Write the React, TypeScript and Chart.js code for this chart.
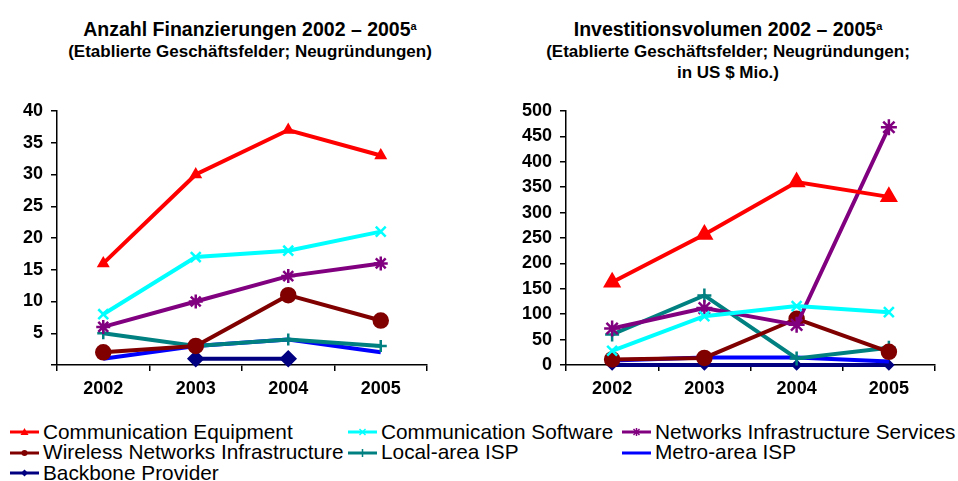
import React, { useEffect, useRef } from "react";
import { Chart, registerables } from "chart.js";

Chart.register(...registerables);

const FONT = "'Liberation Sans', Arial, Helvetica, sans-serif";
Chart.defaults.font.family = FONT;

// ---------- data ----------
const YEARS = ["2002", "2003", "2004", "2005"];

const SERIES_NAMES = [
  "Communication Equipment",
  "Communication Software",
  "Networks Infrastructure Services",
  "Wireless Networks Infrastructure",
  "Local-area ISP",
  "Metro-area ISP",
  "Backbone Provider",
];
const SERIES_COLORS = ["#FF0000", "#00FFFF", "#800080", "#800000", "#008080", "#0000FF", "#000080"];
const POINT_STYLES: any[] = ["triangle", "crossRot", "star", "circle", "cross", "circle", "rectRot"];

// Anzahl Finanzierungen
const countCommEquipment = [16, 30, 37, 33];
const countCommSoftware = [8, 17, 18, 21];
const countNetworksServices = [6, 10, 14, 16];
const countWireless = [2, 3, 11, 7];
const countLocalISP = [5, 3, 4, 3];
const countMetroISP = [1, 3, 4, 2];
const countBackbone = [null, 1, 1, null];

// Investitionsvolumen (US $ Mio.)
const volCommEquipment = [163, 257, 360, 331];
const volCommSoftware = [28, 96, 116, 104];
const volNetworksServices = [72, 112, 79, 468];
const volWireless = [11, 14, 91, 26];
const volLocalISP = [60, 137, 13, 34];
const volMetroISP = [9, 15, 15, 7];
const volBackbone = [0, 0, 0, 0];

const COUNT_MAX = 40;
const COUNT_STEP = 5;
const VOL_MAX = 500;
const VOL_STEP = 50;

const COUNT_SERIES = [countCommEquipment, countCommSoftware, countNetworksServices, countWireless, countLocalISP, countMetroISP, countBackbone];
const VOL_SERIES = [volCommEquipment, volCommSoftware, volNetworksServices, volWireless, volLocalISP, volMetroISP, volBackbone];

const COUNT_RADII = [5, 7, 7, 7, 6, 0, 7];
const VOL_RADII = [8, 7, 8, 7, 7, 0, 4];

type ChartProps = {
  series: (number | null)[][];
  max: number;
  step: number;
  hideZero: boolean;
  radii: number[];
  left: number;
  yWidth: number;
  padRight: number;
};

function LineChart({ series, max, step, hideZero, radii, left, yWidth, padRight }: ChartProps) {
  const ref = useRef<HTMLCanvasElement>(null);
  useEffect(() => {
    const axisGrid = {
      display: true,
      drawOnChartArea: false,
      drawTicks: true,
      tickLength: 6,
      color: "#000",
      lineWidth: 1.5,
    };
    const chart = new Chart(ref.current as HTMLCanvasElement, {
      type: "line",
      data: {
        labels: YEARS,
        datasets: SERIES_NAMES.map((name, i) => ({
          label: name,
          data: series[i] as any,
          borderColor: SERIES_COLORS[i],
          backgroundColor: SERIES_COLORS[i],
          pointBackgroundColor: SERIES_COLORS[i],
          pointBorderColor: SERIES_COLORS[i],
          borderWidth: 4,
          pointStyle: POINT_STYLES[i],
          pointRadius: radii[i],
          pointBorderWidth: 2.5,
          tension: 0,
          spanGaps: false,
          clip: false as any,
        })),
      },
      options: {
        animation: false,
        responsive: false,
        maintainAspectRatio: false,
        layout: { padding: { top: 111, right: padRight, left: 0, bottom: 10 } },
        plugins: {
          legend: { display: false },
          tooltip: { enabled: false },
          title: { display: false },
        },
        scales: {
          x: {
            offset: true,
            grid: { ...axisGrid, offset: true },
            border: { display: true, color: "#000", width: 1.5 },
            ticks: { color: "#000", font: { size: 18, weight: "bold" }, padding: 7, maxRotation: 0 },
            afterFit: (s: any) => {
              s.height = 35;
            },
          },
          y: {
            min: 0,
            max,
            grid: axisGrid,
            border: { display: true, color: "#000", width: 1.5 },
            ticks: {
              stepSize: step,
              color: "#000",
              font: { size: 18, weight: "bold" },
              padding: 8,
              callback: (v: any) => (hideZero && Number(v) === 0 ? "" : String(v)),
            },
            afterFit: (s: any) => {
              s.width = yWidth;
            },
          },
        },
      } as any,
    });
    return () => chart.destroy();
  }, []);
  return (
    <canvas
      ref={ref}
      width={479}
      height={410}
      style={{ position: "absolute", left, top: 0, width: 479, height: 410 }}
    />
  );
}

function Marker({ index }: { index: number }) {
  const c = SERIES_COLORS[index];
  const style = POINT_STYLES[index];
  const cx = 14.5;
  const cy = 10;
  let shape: any = null;
  if (index === 0) shape = <polygon points={`${cx},${cy - 4} ${cx + 4},${cy + 3} ${cx - 4},${cy + 3}`} fill={c} />;
  else if (style === "crossRot")
    shape = (
      <g stroke={c} strokeWidth={1.5}>
        <line x1={cx - 3} y1={cy - 3} x2={cx + 3} y2={cy + 3} />
        <line x1={cx - 3} y1={cy + 3} x2={cx + 3} y2={cy - 3} />
      </g>
    );
  else if (style === "star")
    shape = (
      <g stroke={c} strokeWidth={1.5}>
        <line x1={cx - 3} y1={cy - 3} x2={cx + 3} y2={cy + 3} />
        <line x1={cx - 3} y1={cy + 3} x2={cx + 3} y2={cy - 3} />
        <line x1={cx} y1={cy - 4} x2={cx} y2={cy + 4} />
      </g>
    );
  else if (index === 3) shape = <circle cx={cx} cy={cy} r={3} fill={c} />;
  else if (style === "cross")
    shape = (
      <g stroke={c} strokeWidth={1.5}>
        <line x1={cx} y1={cy - 4} x2={cx} y2={cy + 4} />
      </g>
    );
  else if (style === "rectRot") shape = <polygon points={`${cx},${cy - 3.5} ${cx + 3.5},${cy} ${cx},${cy + 3.5} ${cx - 3.5},${cy}`} fill={c} />;
  return (
    <svg width={29} height={20} style={{ position: "absolute", left: 0, top: 0 }}>
      <line x1={0} y1={cy} x2={29} y2={cy} stroke={c} strokeWidth={3} />
      {index !== 5 ? shape : null}
    </svg>
  );
}

const LEGEND_COLS = [10, 348, 622];
const LEGEND_TEXT_OFFSET = 33;
const LEGEND_ROW_TOPS = [422, 442.5, 463];

function Legend() {
  return (
    <>
      {SERIES_NAMES.map((name, i) => {
        const col = i % 3;
        const row = Math.floor(i / 3);
        const x = LEGEND_COLS[col];
        const y = LEGEND_ROW_TOPS[row];
        return (
          <div key={name} style={{ position: "absolute", left: x, top: y, height: 20.5, whiteSpace: "nowrap" }}>
            <div style={{ position: "absolute", left: 0, top: 0 }}>
              <Marker index={i} />
            </div>
            <div
              style={{
                position: "absolute",
                left: LEGEND_TEXT_OFFSET,
                top: -0.5,
                fontFamily: FONT,
                fontSize: 20.8,
                lineHeight: "20.5px",
                color: "#000",
              }}
            >
              {name}
            </div>
          </div>
        );
      })}
    </>
  );
}

function Title({ center, lines }: { center: number; lines: string[] }) {
  return (
    <>
      <div
        style={{
          position: "absolute",
          left: center - 240,
          width: 480,
          top: 18,
          textAlign: "center",
          fontFamily: FONT,
          fontWeight: "bold",
          fontSize: 19.5,
          lineHeight: "22px",
          color: "#000",
          whiteSpace: "nowrap",
        }}
      >
        {lines[0]}
        <sup style={{ fontSize: 11, verticalAlign: "6px", lineHeight: 0 }}>a</sup>
      </div>
      <div
        style={{
          position: "absolute",
          left: center - 240,
          width: 480,
          top: 41,
          textAlign: "center",
          fontFamily: FONT,
          fontWeight: "bold",
          fontSize: 17,
          lineHeight: "21px",
          color: "#000",
          whiteSpace: "nowrap",
        }}
      >
        {lines.slice(1).map((l) => (
          <div key={l}>{l}</div>
        ))}
      </div>
    </>
  );
}

export default function App() {
  return (
    <div style={{ position: "absolute", left: 0, top: 0, width: 958, height: 481, background: "#fff", overflow: "hidden" }}>
      <Title center={250} lines={["Anzahl Finanzierungen 2002 – 2005", "(Etablierte Geschäftsfelder; Neugründungen)"]} />
      <Title
        center={728}
        lines={["Investitionsvolumen 2002 – 2005", "(Etablierte Geschäftsfelder; Neugründungen;", "in US $ Mio.)"]}
      />
      <LineChart
        series={COUNT_SERIES}
        max={COUNT_MAX}
        step={COUNT_STEP}
        hideZero={true}
        radii={COUNT_RADII}
        left={0}
        yWidth={57}
        padRight={52}
      />
      <LineChart
        series={VOL_SERIES}
        max={VOL_MAX}
        step={VOL_STEP}
        hideZero={false}
        radii={VOL_RADII}
        left={479}
        yWidth={87}
        padRight={23}
      />
      <Legend />
    </div>
  );
}
